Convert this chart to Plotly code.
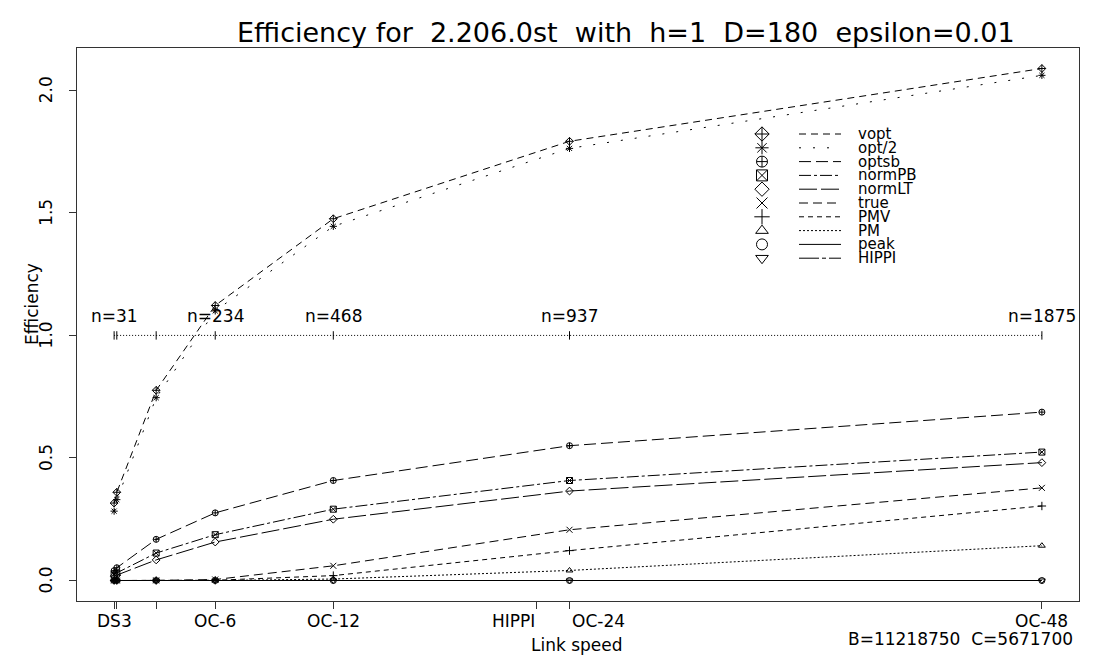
import plotly.graph_objects as go

# ---------------- data ----------------
link_speed = [44.736, 51.84, 155.52, 311.04, 622.08, 1244.16, 2488.32]

vopt   = [0.316, 0.360, 0.776, 1.122, 1.476, 1.792, 2.089]
opt2   = [0.283, 0.330, 0.746, 1.100, 1.445, 1.763, 2.061]
optsb  = [0.040, 0.052, 0.168, 0.276, 0.408, 0.550, 0.687]
normPB = [0.026, 0.031, 0.112, 0.187, 0.291, 0.408, 0.524]
normLT = [0.018, 0.022, 0.084, 0.157, 0.250, 0.365, 0.481]
true_  = [0.000, 0.000, 0.0005, 0.004, 0.060, 0.207, 0.378]
PMV    = [0.000, 0.000, 0.000, 0.001, 0.020, 0.122, 0.304]
PM     = [0.000, 0.000, 0.000, 0.000, 0.006, 0.041, 0.142]
peak   = [0.000, 0.000, 0.000, 0.000, 0.000, 0.000, 0.000]
hippi  = [0.000, 0.000, 0.000, 0.000, 0.000, 0.000, 0.000]

ref_level = [1.0, 1.0, 1.0, 1.0, 1.0, 1.0, 1.0]

n_x      = [44.736, 311.04, 622.08, 1244.16, 2488.32]
n_labels = ["n=31", "n=234", "n=468", "n=937", "n=1875"]

tick_vals = [44.736, 51.84, 155.52, 311.04, 622.08, 1158.0, 1244.16, 2488.32]
tick_text = ["DS3", "", "", "OC-6", "OC-12", "HIPPI", "OC-24", "OC-48"]
tick_anchor = ["center", "center", "center", "center", "center", "right", "left", "center"]

y_tick_vals = [0.0, 0.5, 1.0, 1.5, 2.0]
y_tick_text = ["0.0", "0.5", "1.0", "1.5", "2.0"]

series_names = ["vopt", "opt/2", "optsb", "normPB", "normLT", "true", "PMV", "PM", "peak", "HIPPI"]
series_vals = [vopt, opt2, optsb, normPB, normLT, true_, PMV, PM, peak, hippi]

# ---------------- styles ----------------
symbols = ["diamond-cross-open", "asterisk-open", "circle-cross-open", "square-x-open",
           "diamond-open", "x-thin-open", "cross-thin-open", "triangle-up-open",
           "circle-open", "triangle-down-open"]
dashes = ["7px,5px", "2px,12px", "12px,5px", "12px,3px,3px,3px", "18px,4px",
          "9px,5px", "5px,4px", "2px,2px", "solid", "20px,3px,4px,3px"]

FONT = "DejaVu Sans"
INK = "black"

# page geometry (the page body adds an 8px offset)
BODY = 8
PLOT_L, PLOT_R, PLOT_T, PLOT_B = 77, 1079, 48, 601


def px_to_paper_x(px):
    return (px - PLOT_L) / (PLOT_R - PLOT_L)


def px_to_paper_y(py):
    return (PLOT_B - py) / (PLOT_B - PLOT_T)


fig = go.Figure()

# data series
for name, vals, sym, dsh in zip(series_names, series_vals, symbols, dashes):
    fig.add_trace(go.Scatter(
        x=link_speed, y=vals, mode="lines+markers", name=name,
        line=dict(color=INK, width=1, dash=dsh),
        marker=dict(symbol=sym, size=6, color=INK, line=dict(color=INK, width=1)),
        showlegend=False, cliponaxis=False))

# reference line at efficiency 1
fig.add_trace(go.Scatter(
    x=link_speed, y=ref_level, mode="lines+markers",
    line=dict(color=INK, width=1, dash="1px,2px"),
    marker=dict(symbol="line-ns", size=6, color=INK, line=dict(color=INK, width=1)),
    showlegend=False))

annotations = []
# n labels
for nx, lab in zip(n_x, n_labels):
    annotations.append(dict(x=nx, y=1.0, xref="x", yref="y", text=lab, showarrow=False,
                            yanchor="bottom", yshift=7,
                            font=dict(family=FONT, size=17, color=INK)))

# x tick labels (HIPPI / OC-24 are pushed apart as in the original)
for tv, tt, ta in zip(tick_vals, tick_text, tick_anchor):
    if tt:
        annotations.append(dict(x=tv, y=px_to_paper_y(621), xref="x", yref="paper", text=tt,
                                showarrow=False, xanchor=ta, yanchor="middle",
                                font=dict(family=FONT, size=17, color=INK)))

# y tick labels (rotated)
for tv, tt in zip(y_tick_vals, y_tick_text):
    annotations.append(dict(x=px_to_paper_x(46), y=tv, xref="paper", yref="y", text=tt,
                            showarrow=False, xanchor="center", yanchor="middle", textangle=-90,
                            font=dict(family=FONT, size=17, color=INK)))

# ---------------- hand-drawn key (on a pixel-space overlay axis) ----------------
KEY_SYM_X = 762
KEY_LINE_X0 = 799
KEY_LINE_X1 = 841
KEY_TEXT_X = 856
KEY_Y0 = 134
KEY_DY = 13.8
for i, (name, sym, dsh) in enumerate(zip(series_names, symbols, dashes)):
    ky = KEY_Y0 + i * KEY_DY
    fig.add_trace(go.Scatter(
        x=[KEY_SYM_X], y=[ky], xaxis="x2", yaxis="y2", mode="markers",
        marker=dict(symbol=sym, size=11, color=INK, line=dict(color=INK, width=1)),
        showlegend=False, hoverinfo="skip"))
    fig.add_trace(go.Scatter(
        x=[KEY_LINE_X0, KEY_LINE_X1], y=[ky, ky], xaxis="x2", yaxis="y2", mode="lines",
        line=dict(color=INK, width=1, dash=dsh), showlegend=False, hoverinfo="skip"))
    annotations.append(dict(x=KEY_TEXT_X, y=ky, xref="x2", yref="y2", text=name,
                            showarrow=False, xanchor="left", yanchor="middle",
                            font=dict(family=FONT, size=15, color=INK)))

# texts
annotations += [
    dict(text="Efficiency for\u00a0\u00a02.206.0st\u00a0\u00a0with\u00a0\u00a0h=1\u00a0\u00a0D=180\u00a0\u00a0epsilon=0.01",
         xref="paper", yref="paper", x=px_to_paper_x(626), y=px_to_paper_y(32),
         xanchor="center", yanchor="middle",
         showarrow=False, font=dict(family=FONT, size=27, color=INK)),
    dict(text="Link speed", xref="paper", yref="paper", x=px_to_paper_x(577), y=px_to_paper_y(645),
         xanchor="center", yanchor="middle", showarrow=False,
         font=dict(family=FONT, size=17, color=INK)),
    dict(text="B=11218750\u00a0\u00a0C=5671700", xref="paper", yref="paper",
         x=px_to_paper_x(1075), y=px_to_paper_y(639),
         xanchor="right", yanchor="middle", showarrow=False,
         font=dict(family=FONT, size=17, color=INK)),
    dict(text="Efficiency", xref="paper", yref="paper", x=px_to_paper_x(32), y=px_to_paper_y(304),
         xanchor="center", yanchor="middle", textangle=-90, showarrow=False,
         font=dict(family=FONT, size=17, color=INK)),
]

fig.update_layout(
    width=1094 - BODY, height=657 - BODY,
    margin=dict(l=PLOT_L - BODY, r=1094 - PLOT_R, t=PLOT_T - BODY, b=657 - PLOT_B),
    paper_bgcolor="white", plot_bgcolor="white",
    showlegend=False,
    annotations=annotations,
    xaxis=dict(range=[-53.0, 2586.06], tickmode="array", tickvals=tick_vals, showticklabels=False,
               showgrid=False, zeroline=False, showline=True, mirror=True, automargin=False,
               linecolor="#333", linewidth=1, ticks="outside", ticklen=7, tickcolor="#333"),
    yaxis=dict(range=[-0.0836, 2.1726], tickmode="array", tickvals=y_tick_vals, showticklabels=False,
               showgrid=False, zeroline=False, showline=True, mirror=True, automargin=False,
               linecolor="#333", linewidth=1, ticks="outside", ticklen=7, tickcolor="#333"),
    xaxis2=dict(range=[PLOT_L, PLOT_R], overlaying="x", anchor="y2", visible=False),
    yaxis2=dict(range=[PLOT_B, PLOT_T], overlaying="y", anchor="x2", visible=False),
)

fig.write_html("out.html")
